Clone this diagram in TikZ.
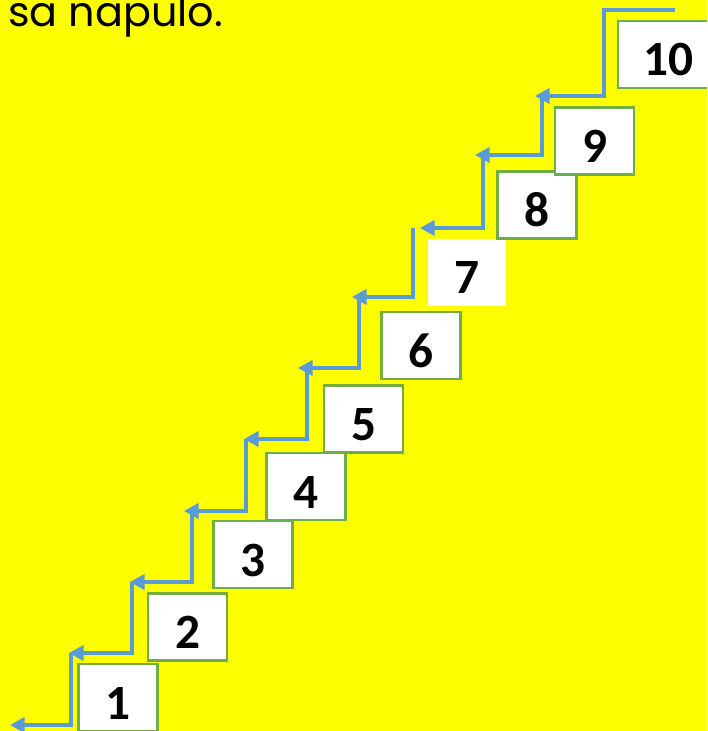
\documentclass[tikz,border=0pt]{standalone}
\usepackage{fontspec}
\setmainfont{Carlito}
\newfontfamily\gothicfont{Poppins}
\usetikzlibrary{arrows.meta}
\definecolor{stairblue}{HTML}{5B9BD5}
\definecolor{boxgreen}{HTML}{70AD47}
\definecolor{pageyellow}{HTML}{FFFF00}

\begin{document}
\begin{tikzpicture}[x=0.75pt, y=-0.75pt,
  stepbox/.style={rectangle, draw=boxgreen, line width=1.8pt, fill=white, inner sep=0pt,
    minimum width=59pt, text height=41.25pt, text depth=9pt,
    font=\fontsize{37}{42}\selectfont\bfseries},
  stair/.style={draw=stairblue, line width=2.4pt, -{Triangle[length=11pt, width=11.5pt]}}]
\useasboundingbox (0,0) rectangle (707,731);
\clip (0,0) rectangle (707,731);
\fill[pageyellow] (0,0) rectangle (707,731);

\node[anchor=base west, inner sep=0pt, font=\gothicfont\fontsize{31}{36}\selectfont] (title) at (8,27) {sa napulo.};

% the steps
\node[stepbox] (n1) at (118, 697.5) {1};
\node[stepbox] (n2) at (187.5, 627) {2};
\node[stepbox] (n3) at (253, 554.5) {3};
\node[stepbox] (n4) at (306, 486.5) {4};
\node[stepbox] (n5) at (363.5, 419) {5};
\node[stepbox] (n6) at (421, 345.5) {6};
\node[stepbox, draw=none] (n7) at (467, 272) {7};
\node[stepbox] (n8) at (537, 205) {8};
\node[stepbox] (n9) at (594.5, 141) {9};
\node[stepbox, minimum width=75pt] (n10) at (668, 54.5) {10};

% the stair line
\coordinate (s0) at (675, 10);
\coordinate (v1) at (604, 10);   \coordinate (t1) at (535, 96);
\coordinate (v2) at (542, 96);   \coordinate (t2) at (475, 155);
\coordinate (v3) at (483, 155);  \coordinate (t3) at (420, 228);
\coordinate (v4) at (413, 228);  \coordinate (t4) at (352, 297);
\coordinate (v5) at (359, 297);  \coordinate (t5) at (298, 368);
\coordinate (v6) at (307, 368);  \coordinate (t6) at (244, 439);
\coordinate (v7) at (246, 439);  \coordinate (t7) at (184, 511);
\coordinate (v8) at (192, 511);  \coordinate (t8) at (130, 582);
\coordinate (v9) at (132, 582);  \coordinate (t9) at (69, 653);
\coordinate (v10) at (71, 653);  \coordinate (t10) at (10, 725);
\draw[stair] (s0) -- (v1) |- (t1);
\draw[stair] (v2) |- (t2);
\draw[stair] (v3) |- (t3);
\draw[stair] (v4) |- (t4);
\draw[stair] (v5) |- (t5);
\draw[stair] (v6) |- (t6);
\draw[stair] (v7) |- (t7);
\draw[stair] (v8) |- (t8);
\draw[stair] (v9) |- (t9);
\draw[stair] (v10) |- (t10);
\end{tikzpicture}
\end{document}
